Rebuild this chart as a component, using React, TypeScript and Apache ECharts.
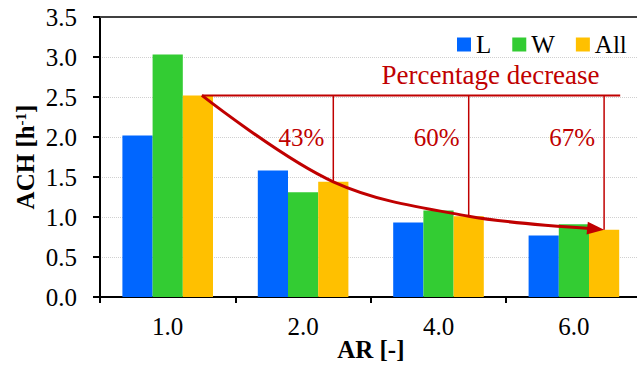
import React, { useEffect, useRef } from 'react';
import * as echarts from 'echarts';

// ---- data ----
const categories = ['1.0', '2.0', '4.0', '6.0'];
const lValues = [2.02, 1.58, 0.93, 0.77];
const wValues = [3.03, 1.31, 1.08, 0.91];
const allValues = [2.52, 1.44, 1.01, 0.84];
const decreaseLabels = ['43%', '60%', '67%'];
const yMin = 0;
const yMax = 3.5;
const yInterval = 0.5;

// ---- styling ----
const FONT = "'Liberation Serif', 'Times New Roman', serif";
const BAR_W = 30.2;
const RED = '#C00000';
const BLUE = '#0066FF';
const GREEN = '#33CC33';
const YELLOW = '#FFC000';

export default function App() {
  const ref = useRef<HTMLDivElement>(null);

  useEffect(() => {
    document.body.style.margin = '0';
    if (!ref.current) return;
    const chart = echarts.init(ref.current, null, { renderer: 'svg' });

    const renderAnnot = (params: any, api: any) => {
      if (params.dataIndex !== 0) return null;
      const yc = (i: number) => api.coord([i, allValues[i]])[0] + BAR_W; // yellow bar centre x
      const yy = (v: number) => api.coord([0, v])[1];
      const x0 = yc(0) + 4;
      const y0 = yy(allValues[0]);
      const lastIdx = allValues.length - 1;
      const xEnd = yc(lastIdx) + BAR_W / 2 + 1;
      const children: any[] = [];
      // horizontal reference line
      children.push({
        type: 'line',
        shape: { x1: x0, y1: y0, x2: xEnd, y2: y0 },
        style: { stroke: RED, lineWidth: 2 },
      });
      // vertical drop lines and labels
      for (let i = 1; i < allValues.length; i++) {
        const x = yc(i);
        children.push({
          type: 'line',
          shape: { x1: x, y1: y0, x2: x, y2: yy(allValues[i]) },
          style: { stroke: RED, lineWidth: 1.5 },
        });
        children.push({
          type: 'text',
          style: {
            text: decreaseLabels[i - 1],
            x: x - 9,
            y: yy(2.0),
            align: 'right',
            verticalAlign: 'middle',
            fill: RED,
            fontSize: 25,
            fontFamily: FONT,
          },
        });
      }
      // curve with arrow
      const tip = [yc(lastIdx), yy(allValues[lastIdx])];
      const prev = [yc(lastIdx - 1), yy(allValues[lastIdx - 1])];
      const dx = tip[0] - prev[0];
      const dy = tip[1] - prev[1];
      const len = Math.sqrt(dx * dx + dy * dy);
      const ux = dx / len;
      const uy = dy / len;
      const AL = 17;
      const AW = 6.5;
      const base = [tip[0] - ux * AL, tip[1] - uy * AL];
      const pts: number[][] = [[x0, y0]];
      for (let i = 1; i < lastIdx; i++) pts.push([yc(i), yy(allValues[i])]);
      pts.push([base[0] + ux * 3, base[1] + uy * 3]);
      children.push({
        type: 'polyline',
        shape: { points: pts, smooth: 0.35 },
        style: { stroke: RED, lineWidth: 3, fill: 'none' },
      });
      children.push({
        type: 'polygon',
        shape: {
          points: [
            tip,
            [base[0] - uy * AW, base[1] + ux * AW],
            [base[0] + uy * AW, base[1] - ux * AW],
          ],
        },
        style: { fill: RED },
      });
      children.push({
        type: 'text',
        style: {
          text: 'Percentage decrease',
          x: yc(lastIdx) - 4.5,
          y: y0 - 20,
          align: 'right',
          verticalAlign: 'middle',
          fill: RED,
          fontSize: 27,
          fontFamily: FONT,
        },
      });
      return { type: 'group', children };
    };

    chart.setOption({
      animation: false,
      textStyle: { fontFamily: FONT },
      grid: {
        left: 100,
        top: 17,
        width: 541.6,
        height: 280,
        containLabel: false,
        outerBoundsMode: 'none',
      },
      legend: {
        data: ['L', 'W', 'All'],
        left: 457,
        top: 32,
        padding: 0,
        icon: 'rect',
        itemWidth: 14,
        itemHeight: 14,
        itemGap: 21,
        textStyle: { fontFamily: FONT, fontSize: 25, color: '#000' },
      },
      xAxis: [
        {
          type: 'category',
          data: categories,
          name: 'AR [-]',
          nameLocation: 'middle',
          nameGap: 40,
          nameMoveOverlap: false,
          nameTextStyle: { fontFamily: FONT, fontSize: 25, fontWeight: 'bold', color: '#000' },
          axisLine: { lineStyle: { color: '#000', width: 2 } },
          axisTick: { show: true, length: 6, lineStyle: { color: '#000', width: 2 } },
          axisLabel: { fontFamily: FONT, fontSize: 25, color: '#000', margin: 17 },
        },
        {
          type: 'category',
          data: categories,
          position: 'top',
          axisLine: { show: true, lineStyle: { color: '#404040', width: 2 } },
          axisTick: { show: false },
          axisLabel: { show: false },
        },
      ],
      yAxis: {
        type: 'value',
        min: yMin,
        max: yMax,
        interval: yInterval,
        name: '{a|ACH [h}{s|-1}{a|]}',
        nameLocation: 'middle',
        nameGap: 62,
        nameMoveOverlap: false,
        nameTextStyle: {
          fontFamily: FONT,
          fontSize: 25,
          fontWeight: 'bold',
          color: '#000',
          rich: {
            a: { fontFamily: FONT, fontSize: 25, fontWeight: 'bold', color: '#000' },
            s: { fontFamily: FONT, fontSize: 15, fontWeight: 'bold', color: '#000', verticalAlign: 'top' },
          },
        },
        axisLine: { show: true, lineStyle: { color: '#000', width: 2 } },
        axisTick: { show: true, length: 7, lineStyle: { color: '#000', width: 2 } },
        axisLabel: {
          fontFamily: FONT,
          fontSize: 25,
          color: '#000',
          margin: 23,
          formatter: (v: number) => v.toFixed(1),
        },
        splitLine: {
          show: true,
          showMinLine: false,
          showMaxLine: false,
          lineStyle: { color: '#d0d0d0', type: 'dotted', width: 1 },
        },
      },
      series: [
        { name: 'L', type: 'bar', data: lValues, barWidth: BAR_W, barGap: '0%', itemStyle: { color: BLUE } },
        { name: 'W', type: 'bar', data: wValues, barWidth: BAR_W, barGap: '0%', itemStyle: { color: GREEN } },
        { name: 'All', type: 'bar', data: allValues, barWidth: BAR_W, barGap: '0%', itemStyle: { color: YELLOW } },
        {
          name: 'annotation',
          type: 'custom',
          renderItem: renderAnnot,
          data: [[0, 0]],
          clip: false,
          silent: true,
          z: 5,
        },
      ],
    });

    return () => chart.dispose();
  }, []);

  return <div ref={ref} style={{ width: 637, height: 365 }} />;
}
